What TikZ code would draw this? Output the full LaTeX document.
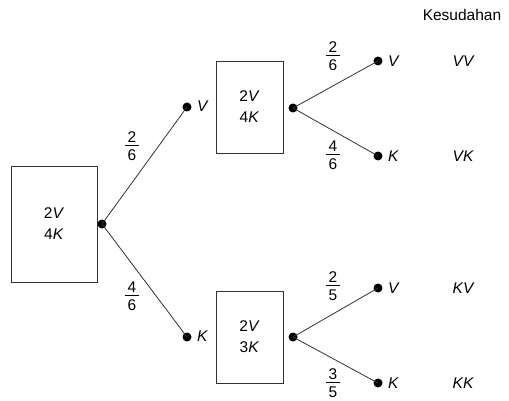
\documentclass[tikz,border=0pt]{standalone}
\usepackage{fontspec}
\setmainfont{Liberation Sans}
\newcommand\myfrac[2]{\begin{tabular}{@{\hspace{2.5pt}}c@{\hspace{2.5pt}}}#1\\[-4pt]\hline\noalign{\vskip 0.5pt}#2\end{tabular}}
\begin{document}
\begin{tikzpicture}[x=1pt,y=-1pt,
  font=\fontsize{15.5}{21}\selectfont,
  box/.style={draw=black!80, line width=0.8pt, align=center, inner sep=0pt},
  dot/.style={circle, fill=black, inner sep=0pt, minimum size=9pt},
  branch/.style={draw=black!80, line width=0.8pt},
  lbl/.style={inner sep=0pt, anchor=west, font=\fontsize{15.5}{21}\selectfont\itshape},
  outc/.style={inner sep=0pt, font=\fontsize{15.5}{21}\selectfont\itshape},
  frac/.style={inner sep=0pt}]
\useasboundingbox (0,0) rectangle (509,401);
% boxes
\node[box, minimum width=86pt, minimum height=116pt] (b0) at (54,224) {2\textit{V}\\4\textit{K}};
\node[box, minimum width=67pt, minimum height=92pt] (b1) at (249.5,107) {2\textit{V}\\4\textit{K}};
\node[box, minimum width=67pt, minimum height=92pt] (b2) at (249.5,337) {2\textit{V}\\3\textit{K}};
% dots
\node[dot] (d0) at (102,224) {};
\node[dot] (dV) at (187,107) {};
\node[dot] (dK) at (187,337) {};
\node[dot] (d1) at (293,108) {};
\node[dot] (d2) at (293,337) {};
\node[dot] (dVV) at (378,61) {};
\node[dot] (dVK) at (378,156) {};
\node[dot] (dKV) at (378,288) {};
\node[dot] (dKK) at (378,383) {};
% branches
\draw[branch] (d0.center) -- (dV.center);
\draw[branch] (d0.center) -- (dK.center);
\draw[branch] (d1.center) -- (dVV.center);
\draw[branch] (d1.center) -- (dVK.center);
\draw[branch] (d2.center) -- (dKV.center);
\draw[branch] (d2.center) -- (dKK.center);
% labels
\node[lbl] (lV) at (197,106) {V};
\node[lbl] (lK) at (197,336) {K};
\node[lbl] (lVV) at (388,61) {V};
\node[lbl] (lVK) at (388,156) {K};
\node[lbl] (lKV) at (388,288) {V};
\node[lbl] (lKK) at (388,383) {K};
% outcomes
\node[outc] (oVV) at (463,61) {VV};
\node[outc] (oVK) at (463,156) {VK};
\node[outc] (oKV) at (463,288) {KV};
\node[outc] (oKK) at (463,383) {KK};
\node[inner sep=0pt] (title) at (462,15) {Kesudahan};
% fractions
\node[frac] (f1) at (132,147) {\myfrac{2}{6}};
\node[frac] (f2) at (132,297) {\myfrac{4}{6}};
\node[frac] (f3) at (333,57) {\myfrac{2}{6}};
\node[frac] (f4) at (333,156) {\myfrac{4}{6}};
\node[frac] (f5) at (333,287) {\myfrac{2}{5}};
\node[frac] (f6) at (333,384) {\myfrac{3}{5}};
\end{tikzpicture}
\end{document}
